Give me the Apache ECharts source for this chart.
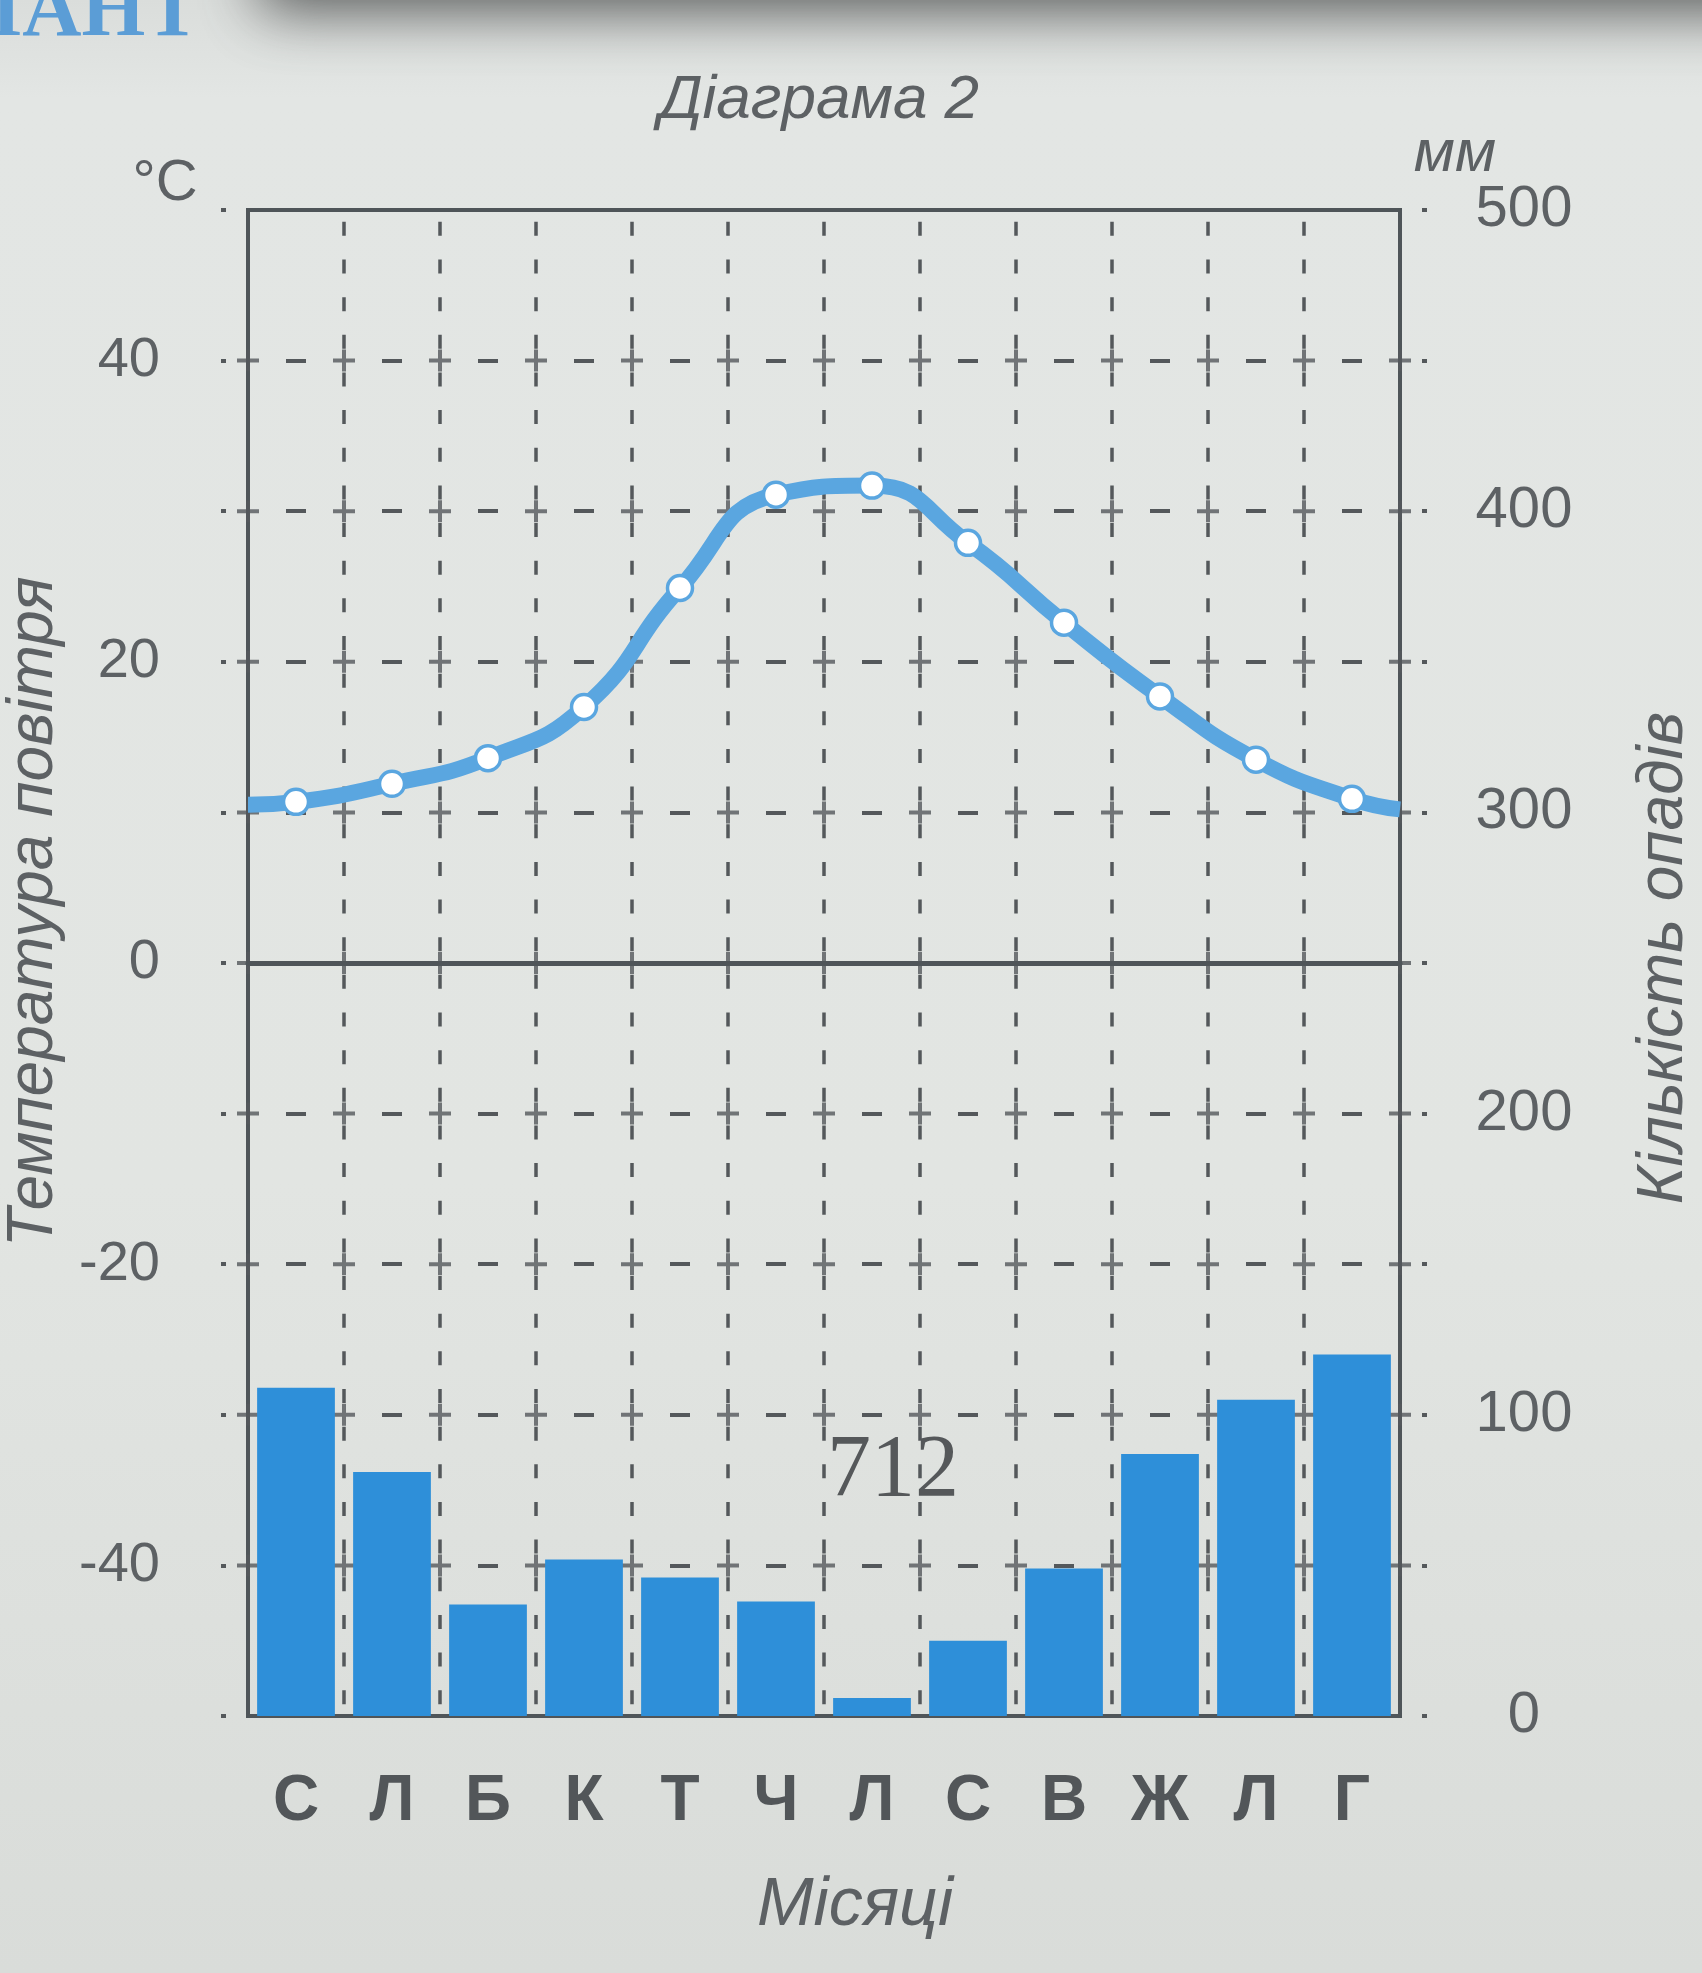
<!DOCTYPE html>
<html>
<head>
<meta charset="utf-8">
<script src="https://cdn.jsdelivr.net/npm/echarts@6/dist/echarts.min.js"></script>
<style>
html,body{margin:0;padding:0;background:#e2e5e2;}
#c{width:1702px;height:1973px;}
</style>
</head>
<body>
<div id="c"></div>
<script>
// ---- data ----
const months = ['С','Л','Б','К','Т','Ч','Л','С','В','Ж','Л','Г'];
const temperature = [10.7, 11.9, 13.6, 17.0, 24.9, 31.1, 31.7, 27.9, 22.6, 17.7, 13.5, 10.9];
const tempAtLeftEdge = 10.5;
const tempAtRightEdge = 10.2;
const precipitation = [109, 81, 37, 52, 46, 38, 6, 25, 49, 87, 105, 120];
const tempTickLabels = [-40, -20, 0, 20, 40];
const precipTickLabels = [0, 100, 200, 300, 400, 500];
const annualTotal = '712';

// ---- styles ----
const AX = '#4f5559', TXT = '#5d6164', DASH = '#54585b';
const BAR = '#2e8fd9', LINE = '#5aa6e0';
const SANS = '"Liberation Sans", Arial, sans-serif';

const lineData = [{value: [0, tempAtLeftEdge], symbol: 'none'}]
  .concat(temperature.map((t, i) => ({value: [i + 0.5, t]})))
  .concat([{value: [months.length, tempAtRightEdge], symbol: 'none'}]);

// decorative "+" marks at grid intersections
const crossData = [];
for (let i = 0; i <= months.length; i++) {
  for (let t = -40; t <= 40; t += 10) crossData.push([i, t]);
}

const chart = echarts.init(document.getElementById('c'), null, {renderer: 'canvas'});

function txt(text, x, y, size, opts) {
  opts = opts || {};
  return {
    type: 'text', x: x, y: y, rotation: opts.rotation || 0, silent: true, z: 10,
    style: {
      text: text, fill: opts.color || TXT,
      font: (opts.style || 'normal') + ' ' + (opts.weight || 'normal') + ' ' + size + 'px ' + (opts.family || SANS),
      align: opts.align || 'center', verticalAlign: 'middle',
      textAlign: opts.align || 'center', textVerticalAlign: 'middle'
    }
  };
}

const GRID_TOP = 210, GRID_BOTTOM = 257;
const cellH = (1973 - GRID_TOP - GRID_BOTTOM) / 10;

const option = {
  animation: false,
  backgroundColor: 'transparent',
  graphic: [
    {type: 'rect', z: -100, silent: true, shape: {x: 0, y: 0, width: 1702, height: 1973},
      style: {fill: new echarts.graphic.LinearGradient(0, 0, 0, 1, [
        {offset: 0, color: '#dadddb'}, {offset: 0.05, color: '#e3e6e4'},
        {offset: 0.6, color: '#e2e5e2'}, {offset: 1, color: '#d9dcd9'}])}},
    {type: 'rect', z: -90, silent: true, shape: {x: 260, y: -90, width: 1600, height: 90},
      style: {fill: 'rgba(80,82,82,1)', shadowBlur: 60, shadowColor: 'rgba(70,72,72,0.9)', shadowOffsetY: 10}},
    txt('ВАРІАНТ', 200, 14, 82, {align: 'right', weight: 'bold', family: '"Liberation Serif", serif', color: '#5b9dd6'}),
    txt('Діаграма 2', 819, 101, 62, {style: 'italic'}),
    txt('°C', 165, 184, 58),
    txt('мм', 1455, 154, 60, {style: 'italic'}),
    txt('Температура повітря', 34, 912, 64, {style: 'italic', rotation: Math.PI / 2}),
    txt('Кількість опадів', 1664, 958, 64, {style: 'italic', rotation: Math.PI / 2}),
    txt('Місяці', 855, 1906, 68, {style: 'italic'}),
    txt(annualTotal, 893, 1472, 88, {family: '"Liberation Serif", serif', color: '#55585a'})
  ],
  grid: {left: 248, right: 302, top: GRID_TOP, bottom: GRID_BOTTOM, show: true,
    borderColor: AX, borderWidth: 4, backgroundColor: 'transparent'},
  xAxis: [
    {type: 'category', data: months, position: 'bottom', z: 5,
      axisLine: {show: true, lineStyle: {color: AX, width: 5}},
      axisTick: {show: false},
      axisLabel: {color: '#525659', fontSize: 64, fontWeight: 'bold', fontFamily: SANS, margin: 54},
      splitLine: {show: false}},
    {type: 'value', min: 0, max: months.length, interval: 1, position: 'top',
      axisLine: {show: false}, axisTick: {show: false}, axisLabel: {show: false},
      splitLine: {show: true, showMinLine: false, showMaxLine: false,
        lineStyle: {color: DASH, width: 3.5, type: [14, cellH / 4 - 14], dashOffset: cellH / 8 + 7}}}
  ],
  yAxis: [
    {type: 'value', min: -50, max: 50, interval: 10, position: 'left',
      axisLine: {show: true, lineStyle: {color: AX, width: 4}},
      axisTick: {show: true, inside: false, length: 30, lineStyle: {color: DASH, width: 4, type: [0, 22, 5, 60]}},
      axisLabel: {formatter: v => tempTickLabels.includes(v) ? String(v) : '',
        color: TXT, fontSize: 56, fontFamily: SANS, margin: 88},
      splitLine: {show: true, showMinLine: false, showMaxLine: false,
        lineStyle: {color: DASH, width: 4, type: [20, 76], dashOffset: 58}}},
    {type: 'value', min: 0, max: 500, interval: 50, position: 'right',
      axisLine: {show: true, lineStyle: {color: AX, width: 4}},
      axisTick: {show: true, inside: false, length: 30, lineStyle: {color: DASH, width: 4, type: [0, 22, 5, 60]}},
      axisLabel: {formatter: v => precipTickLabels.includes(v) ? String(v) : '',
        color: TXT, fontSize: 58, fontFamily: SANS, margin: 124, align: 'center'},
      splitLine: {show: false}}
  ],
  series: [
    {type: 'scatter', name: 'grid', xAxisIndex: 1, yAxisIndex: 0, data: crossData, silent: true, z: 1,
      symbol: 'path://M-2,-11h4v9h9v4h-9v9h-4v-9h-9v-4h9z', symbolSize: 22,
      itemStyle: {color: DASH}},
    {type: 'bar', name: 'Кількість опадів', xAxisIndex: 0, yAxisIndex: 1, data: precipitation,
      barCategoryGap: '19%', itemStyle: {color: BAR}, z: 2},
    {type: 'line', name: 'Температура повітря', xAxisIndex: 1, yAxisIndex: 0, data: lineData,
      smooth: 0.5, symbol: 'circle', symbolSize: 25, z: 4,
      lineStyle: {color: LINE, width: 16},
      itemStyle: {color: '#ffffff', borderColor: LINE, borderWidth: 3.5},
      markLine: {silent: true, symbol: 'none', label: {show: false},
        lineStyle: {color: AX, width: 5, type: 'solid'}, data: [{yAxis: 0}]}}
  ]
};
chart.setOption(option);
</script>
</body>
</html>
